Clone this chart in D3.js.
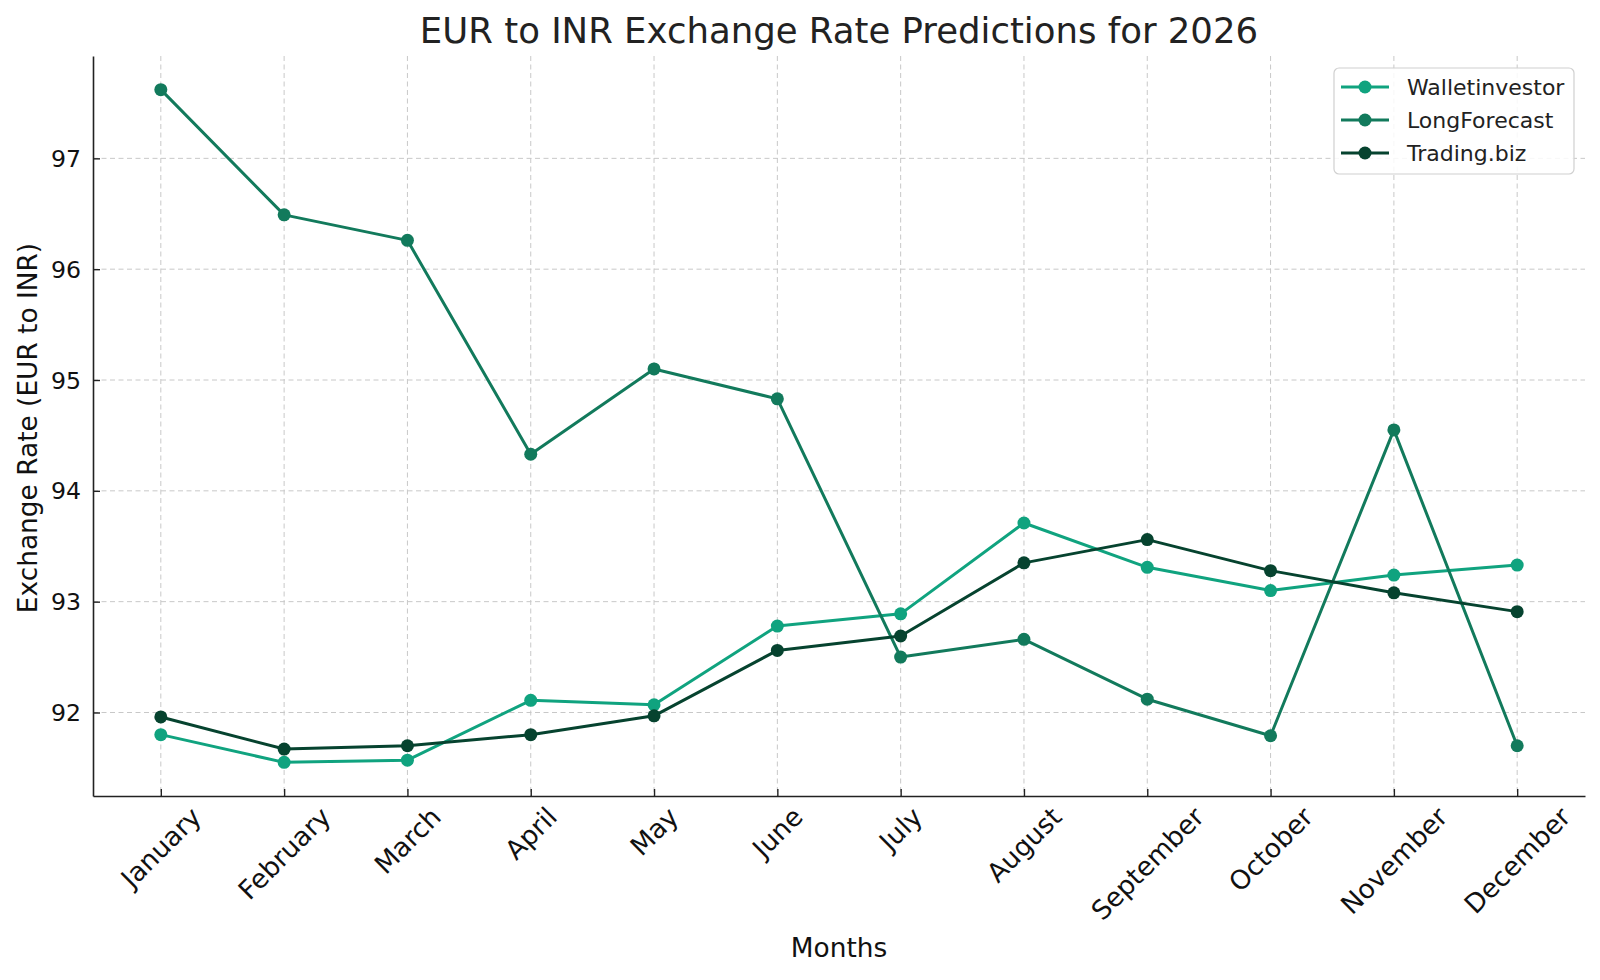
<!DOCTYPE html>
<html>
<head>
<meta charset="utf-8">
<script src="https://cdn.jsdelivr.net/npm/d3@7"></script>
<style>
    body { margin: 0; background: #fff; }
    svg { display: block; font-family: "DejaVu Sans", sans-serif; }
</style>
</head>
<body>
<svg id="chart" width="1600" height="980"></svg>
<script>
const months = ['January', 'February', 'March', 'April', 'May', 'June',
    'July', 'August', 'September', 'October', 'November', 'December'];

const walletinvestor = [91.80, 91.55, 91.57, 92.11, 92.07, 92.78, 92.89, 93.71, 93.31, 93.10, 93.24, 93.33];
const longForecast = [97.62, 96.49, 96.26, 94.33, 95.10, 94.83, 92.50, 92.66, 92.12, 91.79, 94.55, 91.70];
const tradingBiz = [91.96, 91.67, 91.70, 91.80, 91.97, 92.56, 92.69, 93.35, 93.56, 93.28, 93.08, 92.91];

const yTicks = [92, 93, 94, 95, 96, 97];

const seriesList = [
    { name: 'Walletinvestor', values: walletinvestor, color: '#10a37f' },
    { name: 'LongForecast', values: longForecast, color: '#127a5c' },
    { name: 'Trading.biz', values: tradingBiz, color: '#06432f' }
];

const svg = d3.select('#chart');
const plotLeft = 93, plotRight = 1585, plotTop = 56, plotBottom = 796;

// matplotlib style 5% margins
const allVals = seriesList.flatMap(s => s.values);
const yMin = d3.min(allVals), yMax = d3.max(allVals);
const yPad = (yMax - yMin) * 0.05;
const xPad = (months.length - 1) * 0.05;

const x = d3.scaleLinear().domain([-xPad, months.length - 1 + xPad]).range([plotLeft, plotRight]);
const y = d3.scaleLinear().domain([yMin - yPad, yMax + yPad]).range([plotBottom, plotTop]);

// grid
const grid = svg.append('g')
    .attr('stroke', '#c8c8c8')
    .attr('stroke-width', 1)
    .attr('stroke-dasharray', '5,3.5');
months.forEach((m, i) => {
    grid.append('line')
        .attr('x1', x(i)).attr('x2', x(i))
        .attr('y1', plotTop).attr('y2', plotBottom);
});
yTicks.forEach(t => {
    grid.append('line')
        .attr('x1', plotLeft).attr('x2', plotRight)
        .attr('y1', y(t)).attr('y2', y(t));
});

// axes
const xAxis = svg.append('g')
    .attr('transform', `translate(0,${plotBottom})`)
    .call(d3.axisBottom(x).tickValues(d3.range(months.length)).tickSize(-7).tickSizeOuter(0).tickFormat(''));
const yAxis = svg.append('g')
    .attr('transform', `translate(${plotLeft},0)`)
    .call(d3.axisLeft(y).tickValues(yTicks).tickSize(-7).tickSizeOuter(0).tickFormat(''));

[xAxis, yAxis].forEach(ax => {
    ax.select('.domain').attr('stroke', '#222').attr('stroke-width', 1.6);
    ax.selectAll('.tick line').attr('stroke', '#222').attr('stroke-width', 1.4);
});

// y tick labels
yTicks.forEach(t => {
    svg.append('text')
        .attr('x', 81)
        .attr('y', y(t))
        .attr('dy', '0.36em')
        .attr('text-anchor', 'end')
        .attr('font-size', 23.6)
        .attr('fill', '#111')
        .text(t);
});

// x tick labels, rotated 45 and centered on tick like matplotlib
const xFont = 26.4;
months.forEach((m, i) => {
    const t = svg.append('text')
        .attr('text-anchor', 'middle')
        .attr('font-size', xFont)
        .attr('fill', '#111')
        .text(m);
    const w = t.node().getComputedTextLength();
    const h = xFont * 0.95;
    const bh = (w + h) * Math.SQRT1_2;
    const cy = plotBottom + 7 + bh / 2;
    t.attr('transform', `translate(${x(i)},${cy}) rotate(-45)`)
        .attr('dy', '0.36em');
});

// lines and markers
const line = d3.line()
    .x((d, i) => x(i))
    .y(d => y(d));

seriesList.forEach(s => {
    svg.append('path')
        .datum(s.values)
        .attr('fill', 'none')
        .attr('stroke', s.color)
        .attr('stroke-width', 3)
        .attr('stroke-linejoin', 'round')
        .attr('d', line);
    svg.append('g')
        .selectAll('circle')
        .data(s.values)
        .join('circle')
        .attr('cx', (d, i) => x(i))
        .attr('cy', d => y(d))
        .attr('r', 6.5)
        .attr('fill', s.color);
});

// title and labels
svg.append('text')
    .attr('x', (plotLeft + plotRight) / 2)
    .attr('y', 43)
    .attr('text-anchor', 'middle')
    .attr('font-size', 35.5)
    .attr('fill', '#222')
    .text('EUR to INR Exchange Rate Predictions for 2026');

svg.append('text')
    .attr('x', (plotLeft + plotRight) / 2)
    .attr('y', 957)
    .attr('text-anchor', 'middle')
    .attr('font-size', 26.4)
    .attr('fill', '#111')
    .text('Months');

svg.append('text')
    .attr('transform', `translate(37,${(plotTop + plotBottom) / 2 + 2}) rotate(-90)`)
    .attr('text-anchor', 'middle')
    .attr('font-size', 26.4)
    .attr('fill', '#111')
    .text('Exchange Rate (EUR to INR)');

// legend
const legend = svg.append('g').attr('transform', 'translate(1334,68)');
legend.append('rect')
    .attr('width', 240)
    .attr('height', 106)
    .attr('rx', 5)
    .attr('fill', 'rgba(255,255,255,0.85)')
    .attr('stroke', '#d0d0d0')
    .attr('stroke-width', 1.2);

seriesList.forEach((s, i) => {
    const row = legend.append('g').attr('transform', `translate(0,${19 + i * 33})`);
    row.append('line')
        .attr('x1', 7).attr('x2', 55)
        .attr('stroke', s.color)
        .attr('stroke-width', 3);
    row.append('circle')
        .attr('cx', 31)
        .attr('r', 6.5)
        .attr('fill', s.color);
    row.append('text')
        .attr('x', 73)
        .attr('dy', '0.36em')
        .attr('font-size', 22)
        .attr('fill', '#222')
        .text(s.name);
});
</script>
</body>
</html>
